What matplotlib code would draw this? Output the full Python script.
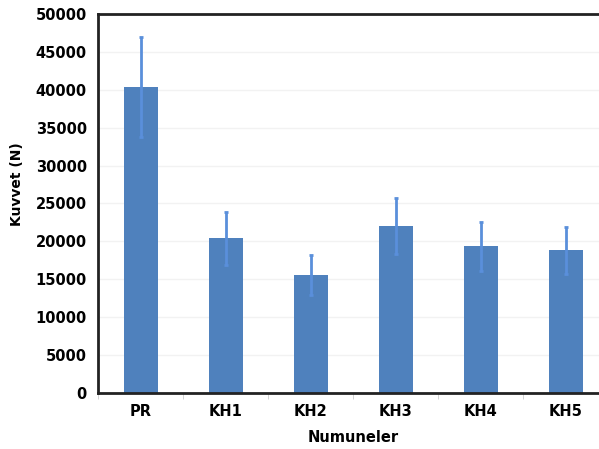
import matplotlib
matplotlib.use("Agg")
import matplotlib.pyplot as plt
import numpy as np

categories = ["PR", "KH1", "KH2", "KH3", "KH4", "KH5"]
values = [40400, 20400, 15570, 22050, 19350, 18800]
errors = [6600, 3450, 2650, 3700, 3200, 3150]
yticks = [0, 5000, 10000, 15000, 20000, 25000, 30000, 35000, 40000, 45000, 50000]

W, H = 599, 449
fig = plt.figure(figsize=(W / 100, H / 100), dpi=100)
left, right, top, bottom = 98, 608, 14, 393
ax = fig.add_axes([left / W, 1 - bottom / H, (right - left) / W, (bottom - top) / H])

x = np.arange(len(categories))
ax.bar(x, values, width=0.4, color="#4F81BD", zorder=2)
ax.errorbar(x, values, yerr=errors, fmt="none", ecolor="#5A8FDB", elinewidth=2,
            capsize=1.5, capthick=2, zorder=3)

ax.set_xlim(-0.5, len(categories) - 0.5)
ax.set_ylim(0, 50000)
ax.set_yticks(yticks)
ax.set_yticklabels([str(v) for v in yticks], fontsize=10.5, fontweight="bold")
ax.set_xticks(x)
ax.set_xticklabels(categories, fontsize=10.5, fontweight="bold")
ax.tick_params(axis="both", length=0, pad=8)
ax.set_xticks(np.arange(-0.5, len(categories)), minor=True)
ax.tick_params(axis="x", which="minor", length=4, color="#cccccc", direction="out")

ax.grid(axis="y", color="#f2f2f2", linewidth=1, zorder=0)
for s in ["left", "bottom", "top"]:
    ax.spines[s].set_linewidth(2)
    ax.spines[s].set_color("#222222")
ax.spines["right"].set_visible(False)

ax.set_xlabel("Numuneler", fontsize=10.5, fontweight="bold", labelpad=8)
ax.set_ylabel("Kuvvet (N)", fontsize=10, fontweight="bold")
ax.yaxis.set_label_coords(-0.145, 0.55)

fig.savefig("out.png", dpi=100)
